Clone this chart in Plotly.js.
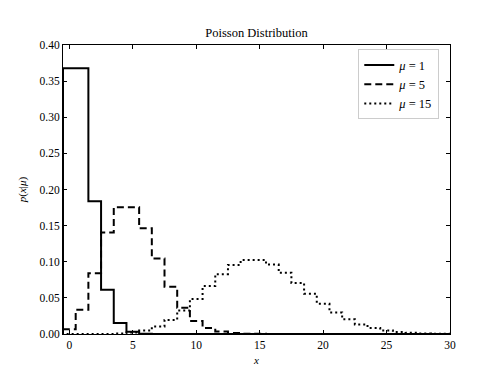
<!DOCTYPE html>
<html>
<head>
<meta charset="utf-8">
<script src="https://cdn.plot.ly/plotly-3.0.1.min.js"></script>
<style>html,body{margin:0;padding:0;background:#fff;}#chart{width:500px;height:375px;}</style>
</head>
<body>
<div id="chart"></div>
<script>
var xValues = [-1,0,1,2,3,4,5,6,7,8,9,10,11,12,13,14,15,16,17,18,19,20,21,22,23,24,25,26,27,28,29,30,31];
var mu1 = [0,0.3679,0.3679,0.1839,0.0613,0.0153,0.0031,0.0005,0.0001,0,0,0,0,0,0,0,0,0,0,0,0,0,0,0,0,0,0,0,0,0,0,0,0];
var mu5 = [0,0.0067,0.0337,0.0842,0.1404,0.1755,0.1755,0.1462,0.1044,0.0653,0.0363,0.0181,0.0082,0.0034,0.0013,0.0005,0.0002,0.0001,0,0,0,0,0,0,0,0,0,0,0,0,0,0,0];
var mu15 = [0,0.0000003,0.0000046,0.0000344,0.000172,0.000645,0.001936,0.004839,0.01037,0.01944,0.03241,0.04861,0.06629,0.08286,0.09561,0.10244,0.10244,0.09604,0.08474,0.07061,0.05575,0.04181,0.02986,0.02036,0.01328,0.0083,0.00498,0.00287,0.0016,0.00086,0.00044,0.00022,0.00011];
var seriesLabels = ['<i>μ</i> = 1', '<i>μ</i> = 5', '<i>μ</i> = 15'];
var xTicks = [0,5,10,15,20,25,30];
var yTicks = [0,0.05,0.10,0.15,0.20,0.25,0.30,0.35,0.40];

var font = 'Liberation Serif, DejaVu Serif, serif';
var dashes = ['solid', '7px,4px', '2px,3px'];
var data = [mu1, mu5, mu15].map(function(ys, i) {
  return {
    x: xValues, y: ys, type: 'scatter', mode: 'lines',
    line: {shape: 'hvh', color: 'black', width: 2, dash: dashes[i]},
    name: seriesLabels[i]
  };
});

var axisCommon = {
  showline: true, linecolor: 'black', linewidth: 1, mirror: 'ticks',
  ticks: 'inside', ticklen: 4, tickwidth: 1, tickcolor: 'black',
  showgrid: false, zeroline: false,
  tickfont: {family: font, size: 11.5, color: 'black'}
};

var layout = {
  width: 500, height: 375,
  margin: {l: 63, r: 50, t: 45, b: 41},
  paper_bgcolor: 'white', plot_bgcolor: 'white',
  font: {family: font, color: 'black', size: 11},
  title: {text: 'Poisson Distribution', font: {family: font, size: 12.5}, x: 0.513, xanchor: 'center', y: 0.912, yanchor: 'middle'},
  xaxis: Object.assign({}, axisCommon, {
    range: [-0.5, 30], tickvals: xTicks, ticktext: xTicks.map(String),
    title: {text: '<i>x</i>', font: {family: font, size: 11}, standoff: 6}
  }),
  yaxis: Object.assign({}, axisCommon, {
    range: [0, 0.4], tickvals: yTicks, ticktext: yTicks.map(function(v){return v.toFixed(2);}),
    title: {text: '<i>p</i>(<i>x</i>|<i>μ</i>)', font: {family: font, size: 11}, standoff: 10}
  }),
  legend: {
    x: 0.763, y: 0.985, xanchor: 'left', yanchor: 'top',
    bordercolor: '#cccccc', borderwidth: 1, bgcolor: 'white',
    font: {family: font, size: 12.5, color: 'black'},
    tracegroupgap: 0, itemwidth: 30
  },
  showlegend: true
};

Plotly.newPlot('chart', data, layout, {displayModeBar: false, staticPlot: true});
</script>
</body>
</html>
